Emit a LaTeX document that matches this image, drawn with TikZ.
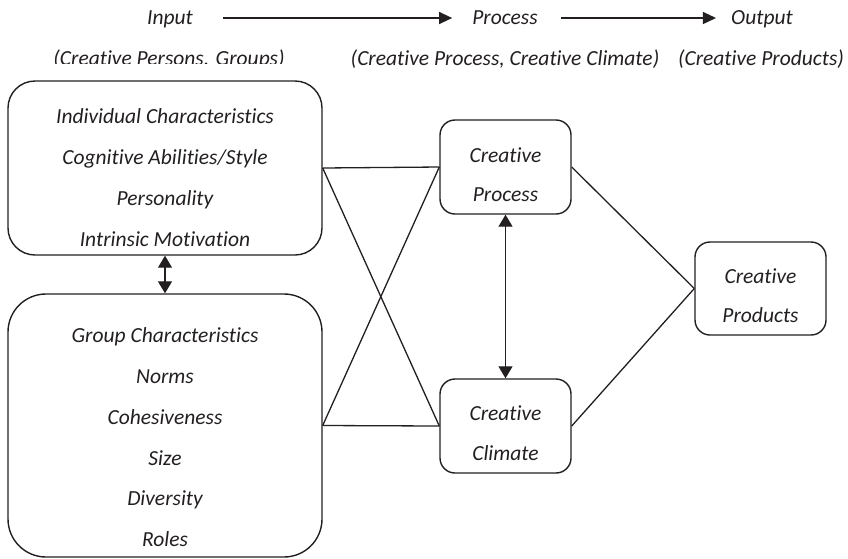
\documentclass[tikz,border=0pt]{standalone}
\usepackage{fontspec}
\setmainfont{Carlito}[Ligatures={NoCommon}, RawFeature={-liga;-clig;-calt;-dlig}]
\usetikzlibrary{arrows.meta}
\definecolor{ink}{RGB}{35,31,32}
\begin{document}
\begin{tikzpicture}[x=1pt,y=-1pt,
  box/.style={draw=ink, line width=1.4pt, rounded corners=#1, inner sep=0pt},
  lbl/.style={font=\fontsize{21.5}{24}\selectfont\itshape, text=ink, anchor=base, inner sep=0pt},
  link/.style={draw=ink, line width=1.3pt},
  both/.style={link, {Triangle[length=12pt,width=14pt]}-{Triangle[length=12pt,width=14pt]}},
  flow/.style={link, -{Triangle[length=13pt,width=12pt]}}]
\useasboundingbox (0,0) rectangle (848,558);

% header: stages of the model
\node[lbl] (tin)   at (170,24) {Input};
\node[lbl] (tproc) at (505,24) {Process};
\node[lbl] (tout)  at (762,24) {Output};
\draw[flow] ([xshift=30pt,yshift=6pt]tin.base east) -- ([xshift=-20pt,yshift=6pt]tproc.base west);
\draw[flow] ([xshift=23pt,yshift=6pt]tproc.base east) -- ([xshift=-15pt,yshift=6pt]tout.base west);

\begin{scope}
  \clip (0,0) rectangle (848,63.5);
  \node[lbl] (cin) at (169,65) {(Creative Persons. Groups)};
\end{scope}
\node[lbl] (cproc) at (505,65) {(Creative Process, Creative Climate)};
\node[lbl] (cout)  at (761,65) {(Creative Products)};

% boxes
\node[box=27pt, minimum width=314pt, minimum height=174pt] (ind)  at (165,168) {};
\node[box=38pt, minimum width=314pt, minimum height=263pt] (grp)  at (165,425.5) {};
\node[box=15pt, minimum width=131pt, minimum height=94pt]  (proc) at (505.5,167) {};
\node[box=15pt, minimum width=131pt, minimum height=94pt]  (clim) at (505.5,426) {};
\node[box=15pt, minimum width=131pt, minimum height=93pt]  (prod) at (760.5,288.5) {};

% box texts
\node[lbl] (ind1) at (165,123.5) {Individual Characteristics};
\node[lbl] (ind2) at (165,164.3) {Cognitive Abilities/Style};
\node[lbl] (ind3) at (165,205)   {Personality};
\node[lbl] (ind4) at (165,246)   {Intrinsic Motivation};

\node[lbl] (grp1) at (165,342)   {Group Characteristics};
\node[lbl] (grp2) at (165,383.5) {Norms};
\node[lbl] (grp3) at (165,424)   {Cohesiveness};
\node[lbl] (grp4) at (165,465)   {Size};
\node[lbl] (grp5) at (165,505.5) {Diversity};
\node[lbl] (grp6) at (165,546.5) {Roles};

\node[lbl] (proc1) at (505.5,162)   {Creative};
\node[lbl] (proc2) at (505.5,201.5) {Process};
\node[lbl] (clim1) at (505.5,420)   {Creative};
\node[lbl] (clim2) at (505.5,460)   {Climate};
\node[lbl] (prod1) at (760.5,283)   {Creative};
\node[lbl] (prod2) at (760.5,322)   {Products};

% connections
\draw[link] (ind.east) -- (proc.west);
\draw[link] (ind.east) -- (clim.west);
\draw[link] (grp.east) -- (clim.west);
\draw[link] (grp.east) -- (proc.west);
\draw[link] (proc.east) -- (prod.west);
\draw[link] (clim.east) -- (prod.west);
\draw[both] (ind.south) -- (grp.north);
\draw[both] (proc.south) -- (clim.north);
\end{tikzpicture}
\end{document}
